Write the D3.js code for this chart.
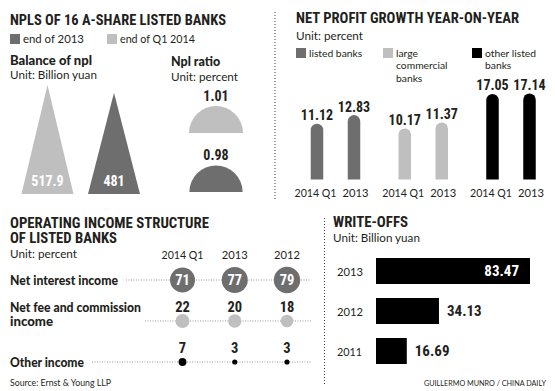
<!DOCTYPE html>
<html><head><meta charset="utf-8">
<script src="https://cdn.jsdelivr.net/npm/d3@7"></script>
<style>
body{margin:0;background:#fff}
svg{display:block}
.h{font-family:"Liberation Sans Narrow","Roboto Condensed","DejaVu Sans Condensed",sans-serif;font-weight:bold;fill:#231f20}
.s{font-family:Lato,"Open Sans",sans-serif;font-weight:900;fill:#231f20}
.b{font-family:Lato,"Open Sans",sans-serif;fill:#231f20}
</style></head><body>
<svg id="c" width="555" height="391"></svg>
<script>
// ---------- data ----------
const nplLegend = ["end of 2013", "end of Q1 2014"];
const nplPeriods = ["end of Q1 2014", "end of 2013"];
const nplBalance = [517.9, 481];
const nplRatio = [1.01, 0.98];
const profitGroups = ["listed banks", "large commercial banks", "other listed banks"];
const profitGroupLines = [["listed banks"], ["large", "commercial", "banks"], ["other listed", "banks"]];
const profitPeriods = ["2014 Q1", "2013"];
const profitValues = [[11.12, 12.83], [10.17, 11.37], [17.05, 17.14]];
const incomeColumns = ["2014 Q1", "2013", "2012"];
const incomeRows = ["Net interest income", "Net fee and commission income", "Other income"];
const incomeRowLines = [["Net interest income"], ["Net fee and commission", "income"], ["Other income"]];
const incomeValues = [[71, 77, 79], [22, 20, 18], [7, 3, 3]];
const writeoffYears = ["2013", "2012", "2011"];
const writeoffValues = [83.47, 34.13, 16.69];

// ---------- helpers ----------
const DARK = "#6e6e6e", LIGHT = "#bfbfbf", BLACK = "#000";
const nplColor = d3.scaleOrdinal().domain(["end of 2013", "end of Q1 2014"]).range([DARK, LIGHT]);
const svg = d3.select("#c");
// approximate widths of the light body font in the reference
const bodyW = {"end of 2013": 61, "end of Q1 2014": 75, "Unit: Billion yuan": 87, "Unit: percent": 67,
  "2014 Q1": 42, "2013": 26, "2012": 26, "2011": 25,
  "Source: Ernst & Young LLP": 101, "GUILLERMO MUNRO / CHINA DAILY": 122};
function T(sel, x, y, s, cls, size, o = {}) {
  const t = sel.append("text").attr("x", x).attr("y", y).attr("class", cls)
    .style("font-size", size + "px").text(s);
  if (o.anchor) t.attr("text-anchor", o.anchor);
  if (o.fill) t.style("fill", o.fill);
  if (cls === "b" && bodyW[s] && !o.fixed) {
    const L = t.node().getComputedTextLength();
    const ns = Math.min(size * 1.08, size * bodyW[s] / L);
    t.style("font-size", ns + "px");
  } else if (o.w) {
    const L = t.node().getComputedTextLength();
    if (Math.abs(L - o.w) > 1.5) t.attr("textLength", o.w).attr("lengthAdjust", "spacingAndGlyphs");
  }
  return t;
}
function vdots(x, y1, y2) {
  svg.append("line").attr("x1", x).attr("x2", x).attr("y1", y1).attr("y2", y2)
    .attr("stroke", "#444").attr("stroke-width", 1).attr("stroke-dasharray", "1,2");
}

// ---------- Panel 1: NPLs ----------
const p1 = svg.append("g");
T(p1, 10, 25, "NPLS OF 16 A-SHARE LISTED BANKS", "h", 14, {w: 216});
const legX = d3.scalePoint().domain(nplLegend).range([10, 107]);
nplLegend.forEach(k => {
  p1.append("rect").attr("x", legX(k)).attr("y", 34).attr("width", 10).attr("height", 10).attr("fill", nplColor(k));
  T(p1, legX(k) + 13, 43, k, "b", 12.5);
});
T(p1, 10, 65, "Balance of npl", "s", 12.5, {w: 82});
T(p1, 10, 79, "Unit: Billion yuan", "b", 12.5);
const triX = d3.scalePoint().domain(nplPeriods).range([47.5, 114]);
const triH = d3.scaleLinear().domain([0, 517.9]).range([0, 109]);
const base = 194, half = 26;
nplPeriods.forEach((k, i) => {
  const cx = triX(k), h = triH(nplBalance[i]);
  p1.append("path").attr("d", `M${cx - half},${base}L${cx},${base - h}L${cx + half},${base}Z`).attr("fill", nplColor(k));
  T(p1, cx, 186, nplBalance[i], "h", 14, {anchor: "middle", fill: "#fff"});
});
T(p1, 171, 65.5, "Npl ratio", "s", 12.5, {w: 50});
T(p1, 171, 80.5, "Unit: percent", "b", 12.5);
const semiY = d3.scalePoint().domain(nplPeriods).range([133, 192]);
const semiR = d3.scaleSqrt().domain([0, 1.01]).range([0, 27]);
nplPeriods.forEach((k, i) => {
  const cy = semiY(k), r = semiR(nplRatio[i]);
  p1.append("path").attr("transform", `translate(216,${cy})`)
    .attr("d", d3.arc()({innerRadius: 0, outerRadius: r, startAngle: -Math.PI / 2, endAngle: Math.PI / 2}))
    .attr("fill", nplColor(k));
  T(p1, 216, cy - r - 5, nplRatio[i].toFixed(2), "h", 14, {anchor: "middle"});
});
vdots(275, 12, 200);

// ---------- Panel 2: Net profit growth ----------
const p2 = svg.append("g");
T(p2, 296, 23, "NET PROFIT GROWTH YEAR-ON-YEAR", "h", 14, {w: 223});
T(p2, 296, 40, "Unit: percent", "b", 12.5);
const profitColor = d3.scaleOrdinal().domain(profitGroups).range([DARK, LIGHT, BLACK]);
const legX2 = d3.scaleOrdinal().domain(profitGroups).range([296, 383, 472]);
profitGroups.forEach((g, gi) => {
  p2.append("rect").attr("x", legX2(g)).attr("y", 48).attr("width", 10).attr("height", 10).attr("fill", profitColor(g));
  profitGroupLines[gi].forEach((ln, li) => T(p2, legX2(g) + 13, 57 + li * 12.4, ln, "b", 10.3));
});
const gx = d3.scalePoint().domain(profitGroups).range([335.5, 511]);
const sx = d3.scalePoint().domain(profitPeriods).range([-18.5, 18.5]);
const y2 = d3.scaleLinear().domain([0, 20]).range([179.5, 79.1]);
const bw = 12.5;
profitGroups.forEach((g, gi) => {
  profitPeriods.forEach((p, pi) => {
    const v = profitValues[gi][pi], cx = gx(g) + sx(p), t = y2(v), b = y2(0), r = bw / 2;
    p2.append("path").attr("d", `M${cx - r},${b}V${t + r}A${r},${r} 0 0 1 ${cx + r},${t + r}V${b}Z`).attr("fill", profitColor(g));
    T(p2, cx, t - 3.5, v.toFixed(2), "h", 14, {anchor: "middle"});
    T(p2, cx + (pi === 0 ? -1.5 : 1.5), 197, p, "b", 12, {anchor: "middle"});
  });
});

// ---------- Panel 3: Operating income structure ----------
const p3 = svg.append("g");
T(p3, 10, 228, "OPERATING INCOME STRUCTURE", "h", 14, {w: 199});
T(p3, 10, 243, "OF LISTED BANKS", "h", 14, {w: 107});
T(p3, 10, 258, "Unit: percent", "b", 12.5);
const cX = d3.scalePoint().domain(incomeColumns).range([182.5, 287]);
const rY = d3.scalePoint().domain(incomeRows).range([280, 362]);
const rR = d3.scaleSqrt().domain([0, 79]).range([0, 13.2]);
const rowColor = d3.scaleOrdinal().domain(incomeRows).range([DARK, LIGHT, BLACK]);
incomeColumns.forEach(c => T(p3, cX(c), 259, c, "b", 12.5, {anchor: "middle"}));
const rowW = [108, 131, 74];
incomeRows.forEach((row, ri) => {
  const cy = rY(row);
  const lines = incomeRowLines[ri];
  const ly = ri === 1 ? 312 : cy + 4.5;
  lines.forEach((ln, li) => {
    T(p3, 10, ly + li * 13.5, ln, "s", 12.5, {w: li === 0 ? rowW[ri] : 43});
  });
  const startX = ri === 1 ? 145 : 10 + rowW[ri] + 8;
  p3.append("line").attr("x1", startX).attr("x2", 311).attr("y1", cy).attr("y2", cy)
    .attr("stroke", "#999").attr("stroke-width", 1).attr("stroke-dasharray", "1,1.5");
  incomeColumns.forEach((c, ci) => {
    const v = incomeValues[ri][ci], r = rR(v);
    p3.append("circle").attr("cx", cX(c)).attr("cy", cy).attr("r", r).attr("fill", rowColor(row));
    if (ri === 0) T(p3, cX(c), cy + 5, v, "h", 14.5, {anchor: "middle", fill: "#fff"});
    else T(p3, cX(c), cy - 9, v, "h", 14.5, {anchor: "middle"});
  });
});
T(p3, 10, 386, "Source: Ernst & Young LLP", "b", 10);

// ---------- Panel 4: Write-offs ----------
const p4 = svg.append("g");
vdots(324.5, 218, 386);
T(p4, 333, 227, "WRITE-OFFS", "h", 14, {w: 75});
T(p4, 333, 242, "Unit: Billion yuan", "b", 12.5);
const wx = d3.scaleLinear().domain([0, 83.47]).range([376, 530]);
const wy = d3.scaleBand().domain(writeoffYears).range([258, 364]).paddingInner(0.35).paddingOuter(0);
writeoffYears.forEach((yr, i) => {
  const v = writeoffValues[i], y = wy(yr), h = wy.bandwidth();
  p4.append("rect").attr("x", wx(0)).attr("y", y).attr("width", wx(v) - wx(0)).attr("height", h).attr("fill", BLACK);
  T(p4, 337, y + h / 2 + 5, yr, "b", 12.5);
  if (wx(v) - wx(0) > 100) T(p4, wx(v) - 11, y + h / 2 + 5, v.toFixed(2), "h", 15, {anchor: "end", fill: "#fff"});
  else T(p4, wx(v) + 8, y + h / 2 + 5, v.toFixed(2), "h", 15);
});
T(p4, 424, 386, "GUILLERMO MUNRO / CHINA DAILY", "b", 9.5);
</script>
</body></html>
